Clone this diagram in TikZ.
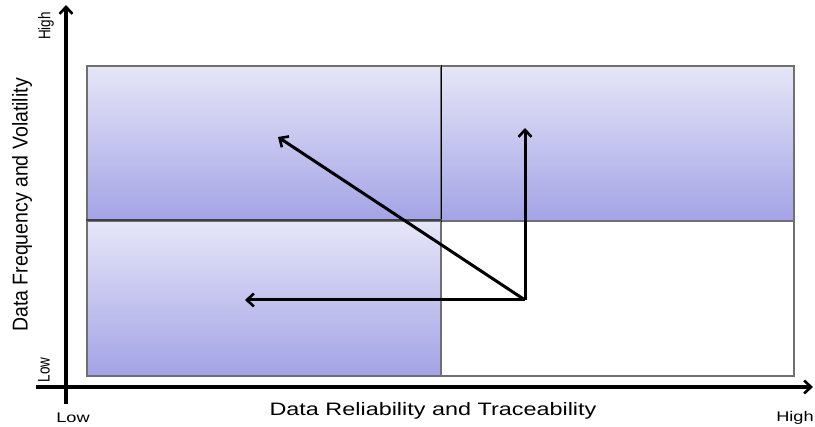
\documentclass[tikz,border=0pt]{standalone}
\usepackage{fontspec}
\setmainfont{Liberation Sans}
\usetikzlibrary{arrows.meta}
\definecolor{qtop}{HTML}{E6E6F8}
\definecolor{qbot}{HTML}{A3A3E6}
\definecolor{qedge}{HTML}{707070}
\begin{document}
\begin{tikzpicture}[x=1pt,y=-1pt,
  quad/.style={draw=qedge,line width=1.6pt,top color=qtop,bottom color=qbot,shading angle=0,minimum height=155pt,anchor=north west,inner sep=0pt},
  emptyquad/.style={draw=qedge,line width=1.6pt,fill=white,minimum height=155pt,anchor=north west,inner sep=0pt},
  axis/.style={line width=3.4pt,-{Straight Barb[length=7pt,width=13pt,line width=2.6pt]}},
  move/.style={line width=3pt,-{Straight Barb[length=7pt,width=13pt,line width=2.6pt]}},
  lbl/.style={inner sep=0pt,font=\fontsize{14}{16}\selectfont,xscale=1.3},
  small/.style={inner sep=0pt,font=\fontsize{13.5}{15}\selectfont},
  xtitle/.style={inner sep=0pt,font=\fontsize{18}{21}\selectfont,xscale=1.3},
  ytitle/.style={inner sep=0pt,font=\fontsize{19.5}{22}\selectfont}]
\useasboundingbox (0,0) rectangle (815,427);
% quadrants
\node[quad,minimum width=354pt] (tl) at (86,65) {};
\node[quad,minimum width=353pt] (tr) at (440,65) {};
\node[quad,minimum width=354pt] (bl) at (86,220) {};
\node[emptyquad,minimum width=353pt] (br) at (440,220) {};
\draw[black,line width=1.5pt] (tl.north east) -- (tl.south east);
\draw[black!75,line width=1.8pt] (bl.north west) -- (bl.north east);
% axes
\coordinate (ybot) at (66,404);
\coordinate (ytop) at (66,5);
\coordinate (xleft) at (36,387);
\coordinate (xright) at (813,387);
\draw[axis] (ybot) -- (ytop);
\draw[axis] (xleft) -- (xright);
% movement arrows
\coordinate (o) at (525,300);
\coordinate (left) at (245,300);
\coordinate (up) at (525,128);
\coordinate (diag) at (278,137);
\draw[move] (o) -- (left);
\draw[move] (o) -- (up);
\draw[move] (o) -- (diag);
% labels
\node[small,rotate=90] (yhigh) at (46,26) {\scalebox{1}[1.25]{High}};
\node[small,rotate=90] (ylow) at (44,370) {\scalebox{1}[1.25]{Low}};
\node[ytitle,rotate=90] (ytitlenode) at (22,205) {\scalebox{1}[1.1]{Data Frequency and Volatility}};
\node[xtitle] (xtitlenode) at (433,411) {Data Reliability and Traceability};
\node[lbl] (xlow) at (73,418) {Low};
\node[lbl] (xhigh) at (795,418) {High};
\end{tikzpicture}
\end{document}
